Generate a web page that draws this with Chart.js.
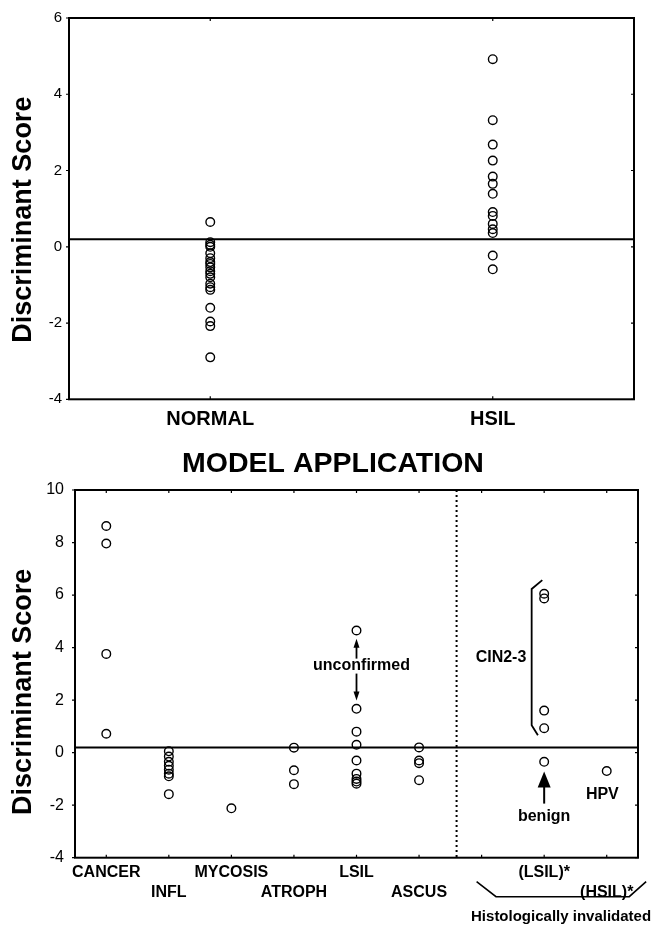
<!DOCTYPE html>
<html>
<head>
<meta charset="utf-8">
<script src="https://cdn.jsdelivr.net/npm/chart.js@4.4.0/dist/chart.umd.min.js"></script>
<style>
  html, body { margin: 0; padding: 0; background: #fff; }
  canvas { position: absolute; left: 0; }
  #train-chart { top: 0; }
  #model-chart { top: 430px; }
</style>
</head>
<body>
<canvas id="train-chart" width="652" height="430"></canvas>
<canvas id="model-chart" width="652" height="496"></canvas>
<script>
// ---- training set ----
const trainLabels = ['NORMAL', 'HSIL'];
const normalScores = [0.65, 0.12, 0.05, 0.0, -0.17, -0.3, -0.4, -0.45, -0.54, -0.64, -0.71, -0.8,
                      -0.97, -1.06, -1.13, -1.6, -1.96, -2.08, -2.9];
const hsilScores = [4.92, 3.32, 2.68, 2.26, 1.84, 1.65, 1.39, 0.91, 0.81, 0.6, 0.46, 0.36, -0.23, -0.59];
const trainTicks = [-4, -2, 0, 2, 4, 6];

// ---- model application ----
const appLabels = ['CANCER', 'INFL', 'MYCOSIS', 'ATROPH', 'LSIL', 'ASCUS', '', '(LSIL)*', '(HSIL)*'];
const cancerScores = [8.63, 7.96, 3.76, 0.72];
const inflScores = [0.05, -0.15, -0.35, -0.5, -0.65, -0.8, -0.9, -1.58];
const mycosisScores = [-2.12];
const atrophScores = [0.19, -0.67, -1.2];
const lsilScores = [4.65, 1.67, 0.8, 0.3, -0.3, -0.8, -1.0, -1.1, -1.18];
const ascusScores = [0.2, -0.3, -0.4, -1.05];
const lsilStarScores = [6.05, 5.87, 1.6, 0.93, -0.35];
const hsilStarScores = [-0.7];
const appTicks = [-4, -2, 0, 2, 4, 6, 8, 10];

const threshold = 0.2;   // discriminant cut-off
const divider = 5.6;     // dotted separator between cytology and histology groups

const FONT = "'Liberation Sans', Arial, Helvetica, sans-serif";
Chart.defaults.font.family = FONT;
Chart.defaults.color = '#000';

function pointSet(label, values) {
    return {
        data: values.map(v => ({ x: label, y: v })),
        pointStyle: 'circle',
        pointRadius: 4.3,
        pointBorderWidth: 1.4,
        pointBorderColor: '#000',
        pointBackgroundColor: 'rgba(0,0,0,0)',
        showLine: false
    };
}

// frame, tick marks, threshold line, divider and rotated y title
const framePlugin = {
    id: 'frame',
    beforeDatasetsDraw(chart, args, o) {
        const { ctx, chartArea: a, scales: { x, y } } = chart;
        ctx.save();
        ctx.strokeStyle = '#000';
        ctx.fillStyle = '#000';

        ctx.lineWidth = 1.2;
        ctx.beginPath();
        y.ticks.forEach(t => {
            const py = y.getPixelForValue(t.value);
            ctx.moveTo(a.left - 3, py); ctx.lineTo(a.left, py);
            ctx.moveTo(a.right - 3, py); ctx.lineTo(a.right, py);
        });
        x.ticks.forEach((t, i) => {
            const px = x.getPixelForTick(i);
            ctx.moveTo(px, a.top); ctx.lineTo(px, a.top + 3);
            ctx.moveTo(px, a.bottom); ctx.lineTo(px, a.bottom - 3);
        });
        ctx.stroke();

        ctx.lineWidth = 2;
        ctx.strokeRect(a.left, a.top, a.width, a.height);

        const ty = y.getPixelForValue(o.threshold);
        ctx.beginPath();
        ctx.moveTo(a.left, ty);
        ctx.lineTo(a.right, ty);
        ctx.stroke();

        if (o.divider != null) {
            const dx = x.getPixelForValue(o.divider);
            ctx.setLineDash([2, 3]);
            ctx.lineWidth = 2;
            ctx.beginPath();
            ctx.moveTo(dx, a.top);
            ctx.lineTo(dx, a.bottom);
            ctx.stroke();
            ctx.setLineDash([]);
        }

        ctx.font = 'bold 27px ' + FONT;
        ctx.textAlign = 'center';
        ctx.textBaseline = 'middle';
        ctx.translate(24, (a.top + a.bottom) / 2 + o.titleShift);
        ctx.rotate(-Math.PI / 2);
        ctx.fillText('Discriminant Score', 0, 0);
        ctx.restore();
    }
};

function arrow(ctx, x, y0, y1, headW, headL, lw) {
    const dir = Math.sign(y1 - y0);
    ctx.lineWidth = lw;
    ctx.beginPath();
    ctx.moveTo(x, y0);
    ctx.lineTo(x, y1 - dir * headL * 0.8);
    ctx.stroke();
    ctx.beginPath();
    ctx.moveTo(x, y1);
    ctx.lineTo(x - headW / 2, y1 - dir * headL);
    ctx.lineTo(x + headW / 2, y1 - dir * headL);
    ctx.closePath();
    ctx.fill();
}

// text notes and brackets of the model application panel
const notesPlugin = {
    id: 'notes',
    afterDraw(chart) {
        const { ctx, chartArea: a, scales: { x, y } } = chart;
        const px = v => x.getPixelForValue(v);
        const py = v => y.getPixelForValue(v);
        ctx.save();
        ctx.strokeStyle = '#000';
        ctx.fillStyle = '#000';
        ctx.textAlign = 'center';
        ctx.textBaseline = 'middle';
        ctx.font = 'bold 16px ' + FONT;

        // unconfirmed LSIL
        ctx.fillText('unconfirmed', px(4) + 5, py(3.31));
        arrow(ctx, px(4), py(3.58), py(4.34), 6, 9, 1.8);
        arrow(ctx, px(4), py(3.01), py(1.99), 6, 9, 1.8);

        // benign
        arrow(ctx, px(7), py(-1.94), py(-0.72), 13, 16, 2);
        ctx.fillText('benign', px(7), py(-2.42));
        ctx.fillText('HPV', px(7.93), py(-1.6));

        // CIN2-3 bracket
        ctx.fillText('CIN2-3', px(6.31), py(3.63));
        ctx.lineWidth = 1.8;
        ctx.beginPath();
        ctx.moveTo(px(6.97), py(6.57));
        ctx.lineTo(px(6.8), py(6.23));
        ctx.lineTo(px(6.8), py(1.04));
        ctx.lineTo(px(6.9), py(0.66));
        ctx.stroke();

        // histologically invalidated bracket under the axis
        ctx.lineWidth = 1.6;
        ctx.beginPath();
        ctx.moveTo(px(5.92), a.bottom + 24);
        ctx.lineTo(px(6.23), a.bottom + 39);
        ctx.lineTo(px(8.36), a.bottom + 39);
        ctx.lineTo(px(8.63), a.bottom + 24);
        ctx.stroke();
        ctx.font = 'bold 15px ' + FONT;
        ctx.fillText('Histologically invalidated', px(7.27), a.bottom + 59);
        ctx.restore();
    }
};

new Chart(document.getElementById('train-chart'), {
    type: 'scatter',
    data: {
        datasets: [pointSet('NORMAL', normalScores), pointSet('HSIL', hsilScores)]
    },
    options: {
        responsive: false,
        animation: false,
        events: [],
        layout: { padding: { top: 18, right: 18, left: 0, bottom: 0 } },
        plugins: {
            legend: { display: false },
            tooltip: { enabled: false },
            frame: { threshold: threshold, divider: null, titleShift: 11 }
        },
        scales: {
            x: {
                type: 'category',
                labels: trainLabels,
                offset: true,
                grid: { display: false, drawTicks: false },
                border: { display: false },
                ticks: { font: { size: 20, weight: 'bold', lineHeight: 1.2 }, padding: 8, maxRotation: 0 },
                afterFit: s => { s.height = 30.7; }
            },
            y: {
                min: -4,
                max: 6,
                grid: { display: false, drawTicks: false },
                border: { display: false },
                ticks: { font: { size: 15 }, padding: 7 },
                afterBuildTicks: s => { s.ticks = trainTicks.map(v => ({ value: v })); },
                afterFit: s => { s.width = 69; }
            }
        }
    },
    plugins: [framePlugin]
});

const lowerRow = new Set(['INFL', 'ATROPH', 'ASCUS', '(HSIL)*']);

new Chart(document.getElementById('model-chart'), {
    type: 'scatter',
    data: {
        datasets: [
            pointSet('CANCER', cancerScores),
            pointSet('INFL', inflScores),
            pointSet('MYCOSIS', mycosisScores),
            pointSet('ATROPH', atrophScores),
            pointSet('LSIL', lsilScores),
            pointSet('ASCUS', ascusScores),
            pointSet('(LSIL)*', lsilStarScores),
            pointSet('(HSIL)*', hsilStarScores)
        ]
    },
    options: {
        responsive: false,
        animation: false,
        events: [],
        layout: { padding: { top: 0, right: 14, left: 28, bottom: 0 } },
        plugins: {
            legend: { display: false },
            tooltip: { enabled: false },
            title: {
                display: true,
                text: 'MODEL APPLICATION',
                color: '#000',
                font: { size: 28.5, weight: 'bold', lineHeight: 1.2 },
                padding: { top: 17, bottom: 8.8 }
            },
            frame: { threshold: threshold, divider: divider, titleShift: 18 }
        },
        scales: {
            x: {
                type: 'category',
                labels: appLabels,
                offset: true,
                grid: { display: false, drawTicks: false },
                border: { display: false },
                ticks: {
                    autoSkip: false,
                    maxRotation: 0,
                    font: { size: 16, weight: 'bold', lineHeight: 1.23 },
                    padding: 5.5,
                    callback: (v, i) => lowerRow.has(appLabels[i]) ? ['', appLabels[i]] : [appLabels[i], '']
                },
                afterFit: s => { s.height = 68.3; }
            },
            y: {
                min: -4,
                max: 10,
                grid: { display: false, drawTicks: false },
                border: { display: false },
                ticks: { font: { size: 16 }, padding: 11 },
                afterBuildTicks: s => { s.ticks = appTicks.map(v => ({ value: v })); },
                afterFit: s => { s.width = 47; }
            }
        }
    },
    plugins: [framePlugin, notesPlugin]
});
</script>
</body>
</html>
